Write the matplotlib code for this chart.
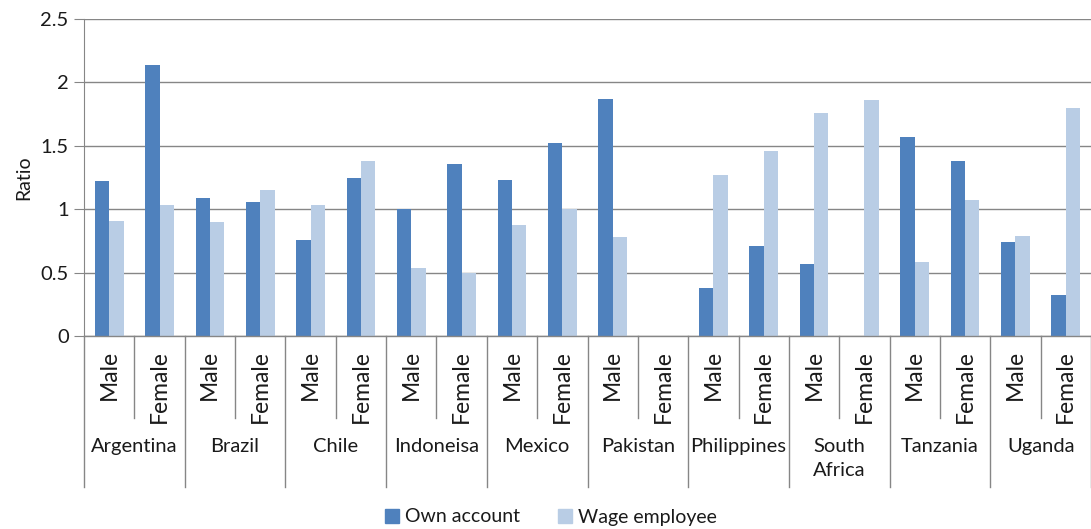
import matplotlib.pyplot as plt
from matplotlib.patches import Patch
import numpy as np

plt.rcParams['font.family'] = ['Lato', 'DejaVu Sans']

countries = ['Argentina', 'Brazil', 'Chile', 'Indoneisa', 'Mexico',
             'Pakistan', 'Philippines', 'South\nAfrica', 'Tanzania', 'Uganda']
sexes = ['Male', 'Female']
own_account = [1.22, 2.14, 1.085, 1.06, 0.755, 1.25, 1.0, 1.36, 1.23, 1.52,
               1.87, 0.0, 0.376, 0.71, 0.57, 0.0, 1.57, 1.38, 0.745, 0.32]
wage_employee = [0.905, 1.03, 0.9, 1.15, 1.03, 1.38, 0.535, 0.5, 0.875, 1.0,
                 0.78, 0.0, 1.27, 1.46, 1.755, 1.86, 0.585, 1.07, 0.79, 1.80]

c_own = '#4F81BD'
c_wage = '#B9CDE5'
grey = '#868686'
txt = '#1a1a1a'

W, H = 1091, 529
fig = plt.figure(figsize=(W / 100, H / 100), dpi=100)
ax_left, ax_right, ax_top, ax_bot = 84, 1091, 19, 336
ax = fig.add_axes([ax_left / W, 1 - ax_bot / H,
                   (ax_right - ax_left) / W, (ax_bot - ax_top) / H])

n = len(own_account)
x = np.arange(n) + 0.5
bw = 0.285
ax.bar(x - bw / 2, own_account, bw, color=c_own, zorder=3, linewidth=0)
ax.bar(x + bw / 2, wage_employee, bw, color=c_wage, zorder=3, linewidth=0)

ax.set_xlim(0, n)
ax.set_ylim(0, 2.5)
ax.set_yticks([0, 0.5, 1, 1.5, 2, 2.5])
ax.set_yticklabels(['0', '0.5', '1', '1.5', '2', '2.5'])
ax.yaxis.grid(True, color=grey, linewidth=1)
ax.set_axisbelow(True)
ax.set_xticks([])
ax.tick_params(axis='y', length=7, color=grey, labelsize=14.5, labelcolor=txt, pad=4)
for s in ['top', 'right', 'bottom']:
    ax.spines[s].set_visible(False)
ax.spines['left'].set_color(grey)
ax.axhline(0, color=grey, linewidth=1, zorder=4, clip_on=False)
ax.set_ylabel('Ratio', fontsize=14, color=txt, labelpad=6)

# two-level category axis drawn below the plot
ph = ax_bot - ax_top


def ay(py):
    return (ax_bot - py) / ph


tr = ax.get_xaxis_transform()
for i in range(n + 1):
    y_end = 487 if i % 2 == 0 else 418
    ax.plot([i, i], [0, ay(y_end)], color=grey, linewidth=1,
            transform=tr, clip_on=False)
for i in range(n):
    ax.text(x[i], ay(350), sexes[i % 2], rotation=90, ha='center', va='top',
            fontsize=16.5, color=txt, transform=tr)
for j, c in enumerate(countries):
    ax.text(2 * j + 1, ay(438), c, ha='center', va='top', fontsize=14.5,
            color=txt, transform=tr, linespacing=1.5)

handles = [Patch(color=c_own, label='Own account'),
           Patch(color=c_wage, label='Wage employee')]
fig.legend(handles=handles, loc='center', bbox_to_anchor=(0.505, 1 - 517 / H),
           ncol=2, frameon=False, fontsize=14, handlelength=0.7,
           handleheight=0.7, handletextpad=0.3, columnspacing=2.0,
           labelcolor=txt)

fig.savefig('out.png', dpi=100)
